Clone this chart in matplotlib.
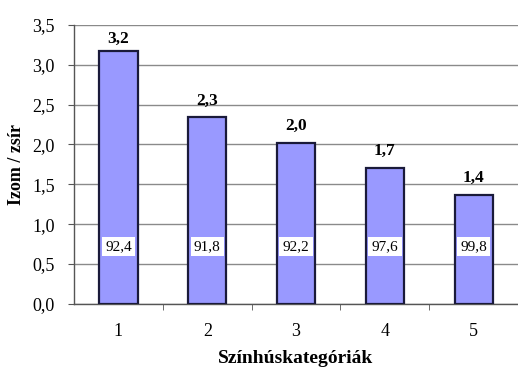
import matplotlib.pyplot as plt

plt.rcParams["font.family"] = ["Liberation Serif", "DejaVu Serif"]

# ratio of muscle to fat per lean-meat category, and the lean-meat share (%)
categories = ["1", "2", "3", "4", "5"]
ratio = [3.17, 2.34, 2.02, 1.71, 1.37]
lean_share = [92.4, 91.8, 92.2, 97.6, 99.8]
inner_label_y = 0.72


def hu(v, fmt="{:.1f}"):
    return fmt.format(v).replace(".", ",")


fig = plt.figure(figsize=(5.18, 3.71), dpi=100)
ax = fig.add_axes([0.143, 0.181, 0.857, 0.752])

x = list(range(len(categories)))
ax.bar(x, ratio, width=0.43, color="#9999ff", edgecolor="#1a1a3a",
       linewidth=1.6, zorder=3)

for xi, v, s in zip(x, ratio, lean_share):
    ax.text(xi, min(v + 0.21, 3.33), hu(v), ha="center", va="center",
            fontsize=12.5, fontweight="bold", zorder=4)
    ax.text(xi, inner_label_y, hu(s), ha="center", va="center", fontsize=11,
            zorder=4, bbox=dict(boxstyle="square,pad=0.22", fc="white", ec="none"))

ax.set_xlim(-0.5, len(categories) - 0.5)
ax.set_ylim(0, 3.5)
ax.set_yticks([i * 0.5 for i in range(8)])
ax.set_yticklabels([hu(i * 0.5) for i in range(8)], fontsize=13)
ax.set_xticks(x)
ax.set_xticklabels(categories, fontsize=13)
ax.set_xticks([i + 0.5 for i in x[:-1]], minor=True)
ax.tick_params(axis="x", which="major", length=0, pad=14)
ax.tick_params(axis="x", which="minor", length=4, direction="out", color="#555555")
ax.tick_params(axis="y", length=4, direction="out", color="#555555", pad=10)

ax.yaxis.grid(True, color="#8a8a8a", linewidth=1.0, zorder=0)
ax.set_axisbelow(True)
for side in ["top", "right"]:
    ax.spines[side].set_visible(False)
for side in ["left", "bottom"]:
    ax.spines[side].set_color("#555555")
    ax.spines[side].set_linewidth(1.0)

ax.set_ylabel("Izom / zsír", fontsize=13, fontweight="bold", labelpad=5)
ax.set_xlabel("Színhúskategóriák", fontsize=14, fontweight="bold", labelpad=7)

fig.savefig("out.png", dpi=100)
